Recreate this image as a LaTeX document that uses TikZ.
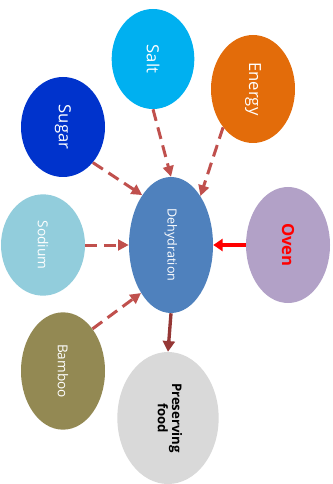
\documentclass[tikz,border=0pt]{standalone}
\usepackage{fontspec}
\setmainfont{Open Sans}
\usetikzlibrary{shapes.geometric,arrows.meta}
\definecolor{saltc}{RGB}{0,176,240}
\definecolor{energyc}{RGB}{227,108,10}
\definecolor{sugarc}{RGB}{0,51,204}
\definecolor{sodiumc}{RGB}{146,205,220}
\definecolor{dehyc}{RGB}{79,129,189}
\definecolor{ovenc}{RGB}{178,161,199}
\definecolor{bambooc}{RGB}{147,137,83}
\definecolor{presc}{RGB}{217,217,217}
\definecolor{feedc}{RGB}{192,80,77}
\definecolor{outc}{RGB}{149,55,53}
\newcommand{\vlab}[1]{\rotatebox[origin=c]{-90}{#1}}

\begin{document}
\begin{tikzpicture}[x=0.75pt,y=-0.75pt,
    blob/.style={ellipse,inner sep=0pt,text=white,minimum width=63pt},
    feed/.style={draw=feedc,line width=2.25pt,dash pattern=on 9pt off 5pt,-{Triangle[length=8pt,width=8pt]}}]
        \useasboundingbox (0,0) rectangle (332,484);
        % outer ring
        \node[blob,fill=saltc,minimum width=62pt,minimum height=75pt,font=\fontsize{12.5}{14}\selectfont] (salt) at (153,59) {\vlab{Salt}};
        \node[blob,fill=energyc,minimum height=81pt,font=\fontsize{12.5}{14}\selectfont] (energy) at (253,89) {\vlab{Energy}};
        \node[blob,fill=sugarc,minimum height=75pt,font=\fontsize{12.5}{14}\selectfont] (sugar) at (63,127) {\vlab{Sugar}};
        \node[blob,fill=sodiumc,minimum height=76pt,font=\fontsize{10.3}{12}\selectfont] (sodium) at (43,245) {\vlab{Sodium}};
        \node[blob,fill=bambooc,minimum height=88pt,font=\fontsize{10.2}{12}\selectfont] (bamboo) at (63,371) {\vlab{Bamboo}};
        \node[blob,fill=ovenc,text=red,minimum height=87pt,font=\bfseries\fontsize{12.5}{14}\selectfont] (oven) at (288,245) {\vlab{Oven}};
        % middle and result
        \node[blob,fill=dehyc,minimum height=102pt,font=\fontsize{9.4}{11}\selectfont] (dehy) at (171,245) {\vlab{Dehydration}};
        \node[blob,fill=presc,text=black,minimum width=76pt,minimum height=99pt,font=\bfseries\fontsize{9.9}{10.5}\selectfont] (pres) at (168,418) {\vlab{\begin{tabular}{@{}c@{}}Preserving\\food\end{tabular}}};
        % links
        \draw[feed] (salt.south)--(dehy.north);\draw[feed] (energy.-128)--(dehy.59);
        \draw[feed] (sugar.-50)--(dehy.120);\draw[feed] (sodium.east)--(dehy.west);
        \draw[feed] (bamboo.55)--(dehy.-122);
        \draw[red,line width=3pt,-{Triangle[length=7pt,width=9pt]}] (oven.west)--(dehy.east);
        \draw[outc,line width=2.5pt,-{Triangle[length=8pt,width=9pt]}] (dehy.south)--(pres.north);
      \end{tikzpicture}
\end{document}
